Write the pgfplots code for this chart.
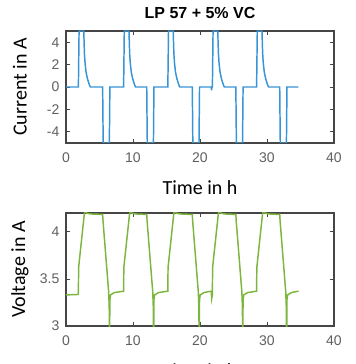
\documentclass[border=0pt]{standalone}
\usepackage{pgfplots}
\pgfplotsset{compat=1.18}
\usepackage{fontspec}
\setmainfont{Liberation Sans}
\newfontfamily\labfont{Carlito}
\definecolor{curblue}{RGB}{55,148,214}
\definecolor{volgreen}{RGB}{125,182,62}
\definecolor{axgray}{RGB}{70,70,70}
\definecolor{tickgray}{RGB}{95,95,95}
\pgfplotsset{
 mystyle/.style={
  scale only axis, width=201pt,
  xmin=0,xmax=40, xtick={0,10,20,30,40},
  tick align=inside, xtick pos=both, ytick pos=both,
  major tick length=3pt,
  axis line style={axgray, line width=0.9pt},
  every tick/.style={axgray, line width=0.5pt},
  tick label style={font=\fontsize{10.5}{12}\selectfont, text=tickgray},
  /pgf/number format/assume math mode=true,
  xticklabel style={yshift=-3.5pt},
  yticklabel style={xshift=-1.5pt},
  xlabel={Time in h},
  xlabel style={font=\labfont\fontsize{15}{18}\selectfont, at={(axis description cs:0.5,0)}, anchor=center, yshift=-33.75pt},
  every axis y label/.style={at={(axis description cs:-0.172,0.5)}, rotate=90, anchor=center, font=\labfont\fontsize{15}{18}\selectfont},
 }
}
\begin{document}
\begin{tikzpicture}
\clip (0pt,0pt) rectangle (267pt,273pt);
\path[use as bounding box] (0pt,0pt) rectangle (267pt,273pt);
\begin{axis}[mystyle, at={(49.5pt,165.75pt)}, anchor=south west, height=84pt,
  ymin=-5, ymax=5, ytick={-4,-2,0,2,4},
  ylabel={Current in A},
  title={LP 57 + 5\% VC},
  title style={font=\fontsize{12}{14}\selectfont\bfseries},
]
\addplot[curblue, line width=1.1pt] coordinates {
(0,0)(1.85,0)(1.95,5)(2.65,5)(2.75,3.0)(2.85,2.1)(3.0,1.3)(3.2,0.75)(3.4,0.35)(3.55,0.1)(3.65,0)
(5.47,0)(5.55,-5)(6.47,-5)(6.55,0)
(8.6,0)(8.7,5)(9.4,5)(9.5,3.0)(9.6,2.1)(9.75,1.3)(9.95,0.75)(10.15,0.35)(10.3,0.1)(10.4,0)
(12.05,0)(12.13,-5)(13.05,-5)(13.13,0)
(15.2,0)(15.3,5)(16.0,5)(16.1,3.0)(16.2,2.1)(16.35,1.3)(16.55,0.75)(16.75,0.35)(16.9,0.1)(17.0,0)
(18.85,0)(18.93,-5)(19.85,-5)(19.93,0)
(21.68,0)(21.72,-0.3)(21.78,0)(21.85,0)(21.95,5)(22.65,5)(22.75,3.0)(22.85,2.1)(23.0,1.3)(23.2,0.75)(23.4,0.35)(23.55,0.1)(23.65,0)
(25.35,0)(25.43,-5)(26.35,-5)(26.43,0)
(28.45,0)(28.55,5)(29.25,5)(29.35,3.0)(29.45,2.1)(29.6,1.3)(29.8,0.75)(30.0,0.35)(30.15,0.1)(30.25,0)
(31.9,0)(31.98,-5)(32.9,-5)(32.98,0)(34.7,0)
};
\end{axis}
\begin{axis}[mystyle, at={(49.5pt,28.5pt)}, anchor=south west, height=84.75pt,
  ymin=3, ymax=4.2, ytick={3,3.5,4},
  ylabel={Voltage in A},
]
\addplot[volgreen, line width=1.1pt] coordinates {
(0,3.33)(1.85,3.335)(1.88,3.62)(2.0,3.7)(2.75,4.2)(2.85,4.21)(3.1,4.2)(3.6,4.19)(5.47,4.185)
(5.52,4.12)(6.37,3.36)(6.45,3.2)(6.5,2.8)(6.55,3.28)(6.65,3.33)(7.2,3.355)(8.6,3.37)
(8.63,3.62)(8.75,3.7)(9.5,4.2)(9.6,4.21)(9.85,4.2)(10.35,4.19)(12.05,4.185)
(12.1,4.12)(12.95,3.36)(13.03,3.2)(13.08,2.8)(13.13,3.28)(13.23,3.33)(13.8,3.355)(15.2,3.37)
(15.23,3.62)(15.35,3.7)(16.1,4.2)(16.2,4.21)(16.45,4.2)(16.95,4.19)(18.85,4.185)
(18.9,4.12)(19.75,3.36)(19.83,3.2)(19.88,2.8)(19.93,3.28)(20.03,3.33)(20.6,3.355)(21.68,3.37)(21.74,3.29)(21.85,3.33)
(21.88,3.62)(22.0,3.7)(22.75,4.2)(22.85,4.21)(23.1,4.2)(23.6,4.19)(25.35,4.185)
(25.4,4.12)(26.25,3.36)(26.33,3.2)(26.38,2.8)(26.43,3.28)(26.53,3.33)(27.1,3.355)(28.45,3.37)
(28.48,3.62)(28.6,3.7)(29.35,4.2)(29.45,4.21)(29.7,4.2)(30.2,4.19)(31.9,4.185)
(31.95,4.12)(32.8,3.36)(32.88,3.2)(32.93,2.8)(32.98,3.28)(33.08,3.33)(33.65,3.355)(34.7,3.37)
};
\end{axis}
\end{tikzpicture}
\end{document}
